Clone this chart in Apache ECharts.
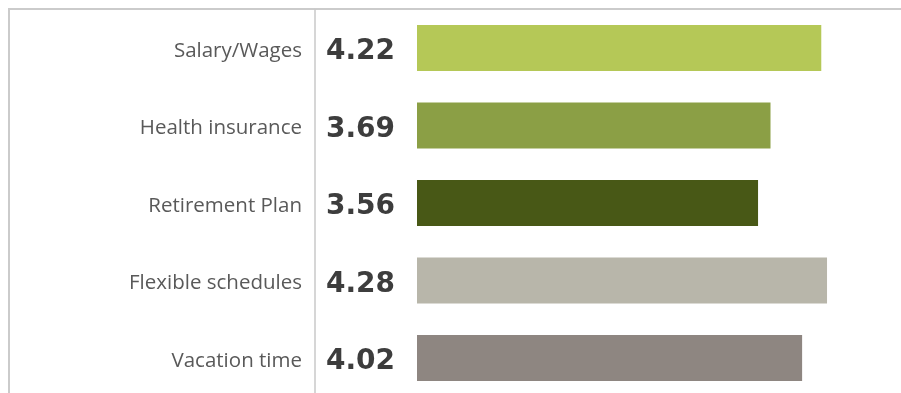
<!DOCTYPE html>
<html>
<head>
<meta charset="utf-8">
<script src="https://cdn.jsdelivr.net/npm/echarts@6/dist/echarts.min.js"></script>
<style>
html,body{margin:0;padding:0;background:#fff;}
#chart{width:901px;height:393px;}
</style>
</head>
<body>
<div id="chart"></div>
<script>
const categories = ["Salary/Wages", "Health insurance", "Retirement Plan", "Flexible schedules", "Vacation time"];
const values = [4.22, 3.69, 3.56, 4.28, 4.02];
const colors = ["#b5c857", "#8b9f45", "#485816", "#b8b6aa", "#8e8681"];

const chart = echarts.init(document.getElementById('chart'), null, {renderer: 'canvas'});
chart.setOption({
  animation: false,
  backgroundColor: '#ffffff',
  graphic: [{
    type: 'rect',
    shape: {x: 9, y: 9, width: 1000, height: 500},
    style: {fill: 'none', stroke: '#cbcbcb', lineWidth: 2},
    silent: true
  }],
  grid: {left: 417, top: 9.25, width: 479, height: 387.5, containLabel: false, outerBoundsMode: 'none'},
  xAxis: {
    type: 'value', min: 0, max: 5, show: false
  },
  yAxis: {
    type: 'category',
    inverse: true,
    data: categories,
    offset: 102,
    axisLine: {show: true, onZero: false, lineStyle: {color: '#c8c8c8', width: 1.5}},
    axisTick: {show: false},
    axisLabel: {
      margin: 13,
      formatter: v => '{c|' + v + '}',
      rich: {
        c: {
          color: '#595959',
          fontFamily: 'Open Sans',
          fontSize: 20.5,
          padding: [6, 0, 0, 0]
        }
      }
    }
  },
  series: [{
    type: 'bar',
    barWidth: 46,
    data: values.map((v, i) => ({value: v, itemStyle: {color: colors[i]}})),
    label: {
      show: true,
      position: 'left',
      distance: 22,
      offset: [0, 4],
      formatter: p => p.value.toFixed(2),
      color: '#3d3d3d',
      fontFamily: 'DejaVu Sans',
      fontWeight: 'bold',
      fontSize: 28
    }
  }]
});
</script>
</body>
</html>
